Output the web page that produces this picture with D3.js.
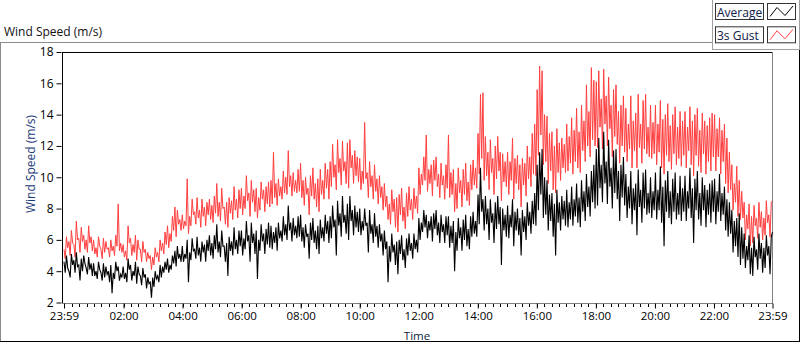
<!DOCTYPE html>
<html>
<head>
<meta charset="utf-8">
<script src="https://cdn.jsdelivr.net/npm/d3@7"></script>
<style>
  body { margin: 0; background: #ffffff; }
  text { font-family: "Open Sans", "Noto Sans", sans-serif; }
</style>
</head>
<body>
<script>
// Average wind speed (m/s), 2.5 minute samples, one row per hour from 23:59
const average = [
    4.6,3.9,5.0,4.2,4.0,3.6,5.1,4.4,4.7,3.9,5.2,4.3,4.4,3.4,4.8,4.0,5.0,4.5,4.2,3.8,4.9,4.1,4.5,3.7,
    4.5,3.7,4.0,3.5,4.6,4.1,3.9,3.4,4.5,3.6,4.3,3.8,4.0,3.3,4.4,2.6,3.9,3.5,4.6,4.0,4.3,3.4,3.8,3.6,
    4.3,3.5,3.9,3.3,4.8,4.1,4.4,3.4,4.0,3.7,4.6,3.2,4.3,3.8,3.7,3.1,4.2,3.6,3.8,2.9,3.6,3.2,3.3,2.3,
    3.6,3.0,4.0,3.5,3.7,3.3,4.4,3.6,4.3,3.9,4.6,4.1,4.8,3.9,4.4,4.1,5.0,4.5,5.3,4.3,5.6,4.8,5.1,4.6,
    5.6,4.6,5.1,4.8,6.0,3.3,5.2,4.7,6.1,5.3,5.4,4.8,6.2,5.0,5.5,4.6,5.9,5.2,5.7,4.6,6.0,5.3,6.3,5.0,
    5.8,4.8,6.3,5.4,7.0,5.2,5.9,4.9,6.6,5.6,5.6,4.6,5.8,3.7,6.2,5.3,5.9,5.0,6.8,5.4,6.0,5.1,6.6,5.6,
    6.6,5.0,6.1,5.4,7.2,5.9,6.3,4.6,7.1,5.8,6.4,5.1,6.6,3.5,6.0,5.3,7.0,5.9,6.4,5.1,6.7,5.7,7.1,5.5,
    6.9,5.4,6.5,5.8,6.8,5.3,7.1,6.1,6.6,5.9,7.5,6.3,7.0,6.0,8.2,6.6,7.1,5.9,7.4,6.3,6.9,6.1,7.5,6.2,
    7.6,5.9,6.8,5.5,7.0,6.2,6.4,4.8,7.1,6.0,7.4,5.8,6.6,5.4,6.9,5.1,7.3,6.1,6.8,5.9,7.6,6.4,7.2,5.8,
    7.5,6.1,8.2,6.8,7.3,5.0,8.5,6.9,7.7,6.2,8.8,7.1,7.6,6.4,8.3,6.0,8.8,7.2,7.9,6.3,8.2,6.8,7.8,6.5,
    8.0,6.3,7.2,6.6,8.0,6.9,7.1,5.2,7.9,6.4,7.0,5.8,7.7,6.2,6.9,5.5,7.0,5.9,6.4,5.0,6.6,5.4,5.9,3.3,
    5.6,4.6,6.4,5.2,5.7,4.4,5.9,3.8,6.0,5.1,6.3,4.7,5.4,4.2,6.1,5.0,6.4,5.3,5.8,4.8,6.4,5.4,6.0,5.2,
    7.4,6.0,7.1,6.5,7.9,6.8,7.6,6.1,7.2,6.6,7.5,5.9,7.7,6.7,7.9,6.3,7.1,5.8,7.6,6.5,7.0,5.8,7.5,6.3,
    7.5,5.5,6.9,5.8,7.2,4.0,6.5,5.3,7.4,6.1,6.8,5.3,7.3,6.0,7.6,5.6,6.7,5.4,7.5,6.2,7.8,6.4,7.2,6.2,
    8.9,7.0,10.6,7.8,8.6,6.6,8.8,7.0,8.0,6.0,8.6,7.1,7.7,5.8,8.4,6.7,8.8,7.0,8.1,4.4,8.0,6.6,7.6,6.2,
    8.2,6.1,7.6,6.8,8.6,5.6,7.8,6.6,8.0,6.3,7.4,5.0,7.9,6.5,7.5,6.0,8.4,6.9,7.8,6.4,8.5,7.0,9.0,6.9,
    10.8,7.9,11.6,8.9,11.8,7.4,10.0,7.6,9.8,6.6,8.9,7.2,9.0,6.2,8.3,5.0,9.2,7.1,8.4,6.6,8.8,7.3,8.5,6.9,
    9.2,6.8,8.4,7.3,9.4,6.9,8.6,7.5,9.6,7.1,8.7,6.8,9.8,7.8,9.1,7.2,10.2,8.1,9.4,7.5,10.4,8.4,10.8,8.0,
    11.8,8.2,12.5,9.3,10.8,8.4,12.9,9.6,11.0,8.3,12.4,9.4,10.6,8.0,11.7,9.0,11.8,8.6,10.4,7.2,10.8,8.7,11.3,8.2,
    10.2,7.4,9.4,8.0,10.4,7.0,9.3,7.9,9.6,6.3,10.5,8.1,9.2,7.1,10.3,8.0,10.5,7.6,9.0,7.7,10.0,7.4,9.1,7.9,
    10.3,7.3,9.2,7.9,10.7,7.1,9.4,5.6,9.8,7.8,10.4,7.4,9.1,7.0,9.9,7.8,10.3,7.3,9.0,7.6,10.1,7.2,9.3,7.8,
    10.1,7.2,9.1,8.0,10.6,7.4,9.3,5.8,9.9,7.9,10.4,7.3,9.0,6.9,10.0,7.9,9.5,6.8,9.2,7.6,9.6,7.1,9.8,7.8,
    9.9,7.0,9.1,7.8,10.2,7.2,9.0,7.6,9.4,6.6,8.6,6.2,8.4,6.4,7.9,5.2,7.2,5.6,7.4,4.9,7.7,4.4,6.8,4.8,
    6.4,4.2,5.6,4.7,6.3,3.8,5.5,3.7,6.2,4.9,5.4,4.1,6.4,4.8,5.8,3.9,5.5,4.2,6.3,5.0,5.6,3.8,6.2,6.5
];

// 3 second gust (m/s), same samples
const gust = [
    5.4,4.8,6.2,5.5,5.9,5.0,6.6,5.8,5.7,4.9,7.2,6.0,6.1,5.2,6.8,5.9,6.3,5.4,6.0,5.2,6.9,5.8,6.2,5.3,
    6.0,5.1,5.5,4.9,6.2,5.6,5.4,4.8,6.1,5.2,5.9,5.4,5.5,4.9,6.0,5.3,5.6,5.0,6.3,5.6,8.3,5.3,5.8,5.2,
    5.7,4.9,5.3,4.7,6.9,5.8,6.1,5.0,5.7,5.2,6.3,4.7,6.0,5.4,5.4,4.6,5.9,5.2,5.4,4.6,5.2,4.8,5.0,4.1,
    4.9,4.4,5.5,4.9,5.2,4.6,6.0,5.3,5.8,5.1,6.5,5.7,6.9,5.5,6.4,5.9,7.5,6.6,8.1,6.2,7.9,7.0,7.3,6.6,
    7.6,6.7,7.2,6.9,9.9,6.4,7.5,6.9,8.6,7.6,7.8,7.0,8.7,7.4,7.9,6.8,8.6,7.5,8.1,6.9,8.4,7.6,8.6,7.3,
    8.2,7.1,8.8,7.7,9.6,7.5,8.4,7.2,9.3,8.0,8.1,7.0,8.4,6.8,8.7,7.7,8.5,7.3,9.4,7.9,8.6,7.4,9.2,8.0,
    9.3,7.6,8.8,8.0,10.1,8.5,9.0,7.5,9.8,8.4,9.2,7.8,9.3,7.4,8.7,7.9,9.7,8.6,9.2,7.8,9.4,8.3,9.7,8.1,
    9.8,8.3,11.6,8.7,9.6,8.2,9.9,8.8,9.4,8.6,10.4,9.0,10.0,8.9,11.7,9.4,10.1,8.8,10.3,9.1,9.8,9.0,10.5,9.1,
    10.9,8.7,9.8,8.2,10.0,8.9,9.3,7.6,10.1,8.8,10.6,8.6,9.6,8.1,9.9,7.8,10.5,8.9,9.8,8.6,10.9,9.3,10.5,8.6,
    11.0,9.4,12.1,10.0,10.8,9.2,12.4,10.3,11.2,9.5,12.3,10.4,11.0,9.6,12.2,9.3,12.4,10.6,11.4,9.6,11.7,10.1,11.3,9.7,
    11.2,9.2,10.4,9.6,13.5,9.9,10.3,8.7,11.0,9.4,10.1,8.6,10.8,9.1,9.9,8.3,10.1,8.7,9.4,7.9,9.6,8.1,8.8,7.3,
    8.3,7.0,9.2,7.8,8.6,6.8,8.7,6.5,8.9,7.6,9.3,7.2,8.1,6.7,9.0,7.5,9.4,7.9,8.6,7.3,9.3,8.0,8.8,7.7,
    10.6,8.9,10.2,9.5,11.3,9.8,12.7,9.1,10.5,9.6,10.8,8.8,11.1,9.8,11.3,9.4,10.2,8.7,10.9,9.5,10.1,8.6,10.8,9.3,
    12.7,8.7,10.3,8.9,10.5,7.8,9.6,8.0,10.6,9.0,9.8,8.1,10.5,8.9,10.9,8.5,9.7,8.2,10.8,9.2,11.1,9.5,10.6,9.3,
    12.8,10.2,15.3,11.2,15.4,9.8,12.6,10.1,11.6,9.2,12.4,10.3,11.2,8.9,12.0,9.9,12.6,10.4,11.6,8.5,11.5,9.7,11.0,9.4,
    11.6,8.9,11.0,9.8,12.5,8.6,11.2,9.6,11.4,9.2,10.8,8.1,11.2,9.5,10.9,8.8,12.0,9.9,11.3,9.4,12.8,10.2,13.4,10.1,
    15.6,11.4,17.1,12.7,16.8,10.8,14.0,11.0,13.9,9.6,12.8,10.4,12.9,9.2,12.0,9.0,13.1,10.3,12.2,9.8,12.5,10.6,12.1,10.3,
    13.4,10.4,12.6,10.9,13.8,10.2,13.0,11.0,14.4,10.6,12.9,10.3,14.6,11.7,13.6,11.0,15.9,12.0,14.2,11.3,17.0,12.4,16.2,12.0,
    16.1,11.9,16.8,13.2,15.0,11.8,16.9,13.4,15.2,12.0,16.4,13.1,14.6,11.3,15.6,12.6,15.9,12.1,14.2,10.9,14.6,12.0,15.2,11.6,
    14.4,11.0,13.4,11.8,15.2,10.6,13.6,11.7,14.1,10.6,15.3,11.9,13.4,10.9,14.9,11.8,15.3,11.5,13.2,11.3,14.6,11.2,13.5,11.5,
    14.6,10.8,13.4,11.6,14.9,10.6,13.7,10.2,14.0,11.4,14.7,11.0,13.3,10.5,14.0,11.5,14.5,10.8,13.2,11.2,14.2,10.7,13.6,11.4,
    14.2,10.6,13.2,11.7,14.5,10.8,13.6,10.1,14.0,11.4,14.4,10.7,13.0,10.3,14.1,11.5,13.6,10.2,13.3,11.0,13.8,10.4,14.1,11.3,
    14.0,10.4,13.1,11.3,13.8,10.2,13.0,11.0,13.4,9.6,12.5,9.0,11.6,9.2,10.8,7.9,9.6,8.4,10.7,7.5,9.8,7.3,9.1,7.4,
    8.4,6.0,7.6,6.7,8.3,5.6,7.5,5.8,8.2,6.9,7.4,6.1,8.4,6.8,7.8,6.0,7.4,6.3,8.5,7.1,7.6,6.2,8.4,8.5
];

const yTicks = [2, 4, 6, 8, 10, 12, 14, 16, 18];
const xTickHours = [2, 4, 6, 8, 10, 12, 14, 16, 18, 20, 22];
const seriesNames = ["Average", "3s Gust"];
const seriesColors = ["#000000", "#ff3f3f"];

let width = 800,
    height = 342;

let svg = d3.select('body')
    .append('svg')
    .attr('width', width)
    .attr('height', height);

// Time range is one day, 23:59 to 23:59
let start = new Date(2020, 0, 1, 23, 59);
let end = new Date(2020, 0, 2, 23, 59);

let xScale = d3.scaleTime()
    .domain([start, end])
    .range([64, 772.5]);

let yScale = d3.scaleLinear()
    .domain([2, 18])
    .range([302.5, 52]);

// samples are spread evenly over the day
let toPoints = arr => {
    let step = (end - start) / (arr.length - 1);
    return arr.map((v, i) => ({ t: new Date(+start + i * step), v: v }));
};

// Outer frame (LabVIEW style)
svg.append('line').attr('x1', 0).attr('x2', 712).attr('y1', 42.5).attr('y2', 42.5)
    .attr('stroke', '#8a8a8a');
svg.append('line').attr('x1', 0.5).attr('x2', 0.5).attr('y1', 42).attr('y2', 342)
    .attr('stroke', '#8a8a8a');
svg.append('line').attr('x1', 0).attr('x2', 800).attr('y1', 341.5).attr('y2', 341.5)
    .attr('stroke', '#000');
svg.append('line').attr('x1', 799.5).attr('x2', 799.5).attr('y1', 49).attr('y2', 342)
    .attr('stroke', '#000');

// Chart label
svg.append('text')
    .attr('x', 4)
    .attr('y', 36)
    .style('font-size', '12px')
    .style('fill', '#111')
    .text('Wind Speed (m/s)');

// Plot area border
svg.append('line').attr('x1', 62).attr('x2', 773).attr('y1', 52.5).attr('y2', 52.5).attr('stroke', '#000');
svg.append('line').attr('x1', 62.5).attr('x2', 62.5).attr('y1', 52).attr('y2', 303).attr('stroke', '#000');
svg.append('line').attr('x1', 772.5).attr('x2', 772.5).attr('y1', 52).attr('y2', 303).attr('stroke', '#808080');
svg.append('line').attr('x1', 62).attr('x2', 773).attr('y1', 303.5).attr('y2', 303.5).attr('stroke', '#808080');

// Y axis
let yAxis = svg.append('g')
    .attr('transform', 'translate(61.5,0)')
    .call(d3.axisLeft(yScale).tickValues(yTicks).tickSize(5).tickPadding(3).tickFormat(d3.format('d')));
yAxis.select('.domain').remove();
yAxis.selectAll('text').style('font-size', '12px').style('font-family', '"Open Sans", sans-serif').style('fill', '#000');

// X axis minor ticks every 15 minutes
let minorTicks = d3.timeMinute.every(15).range(new Date(2020, 0, 2, 0, 0), end);
svg.append('g')
    .selectAll('line')
    .data(minorTicks)
    .enter().append('line')
    .attr('x1', d => Math.round(xScale(d)) + 0.5)
    .attr('x2', d => Math.round(xScale(d)) + 0.5)
    .attr('y1', 304)
    .attr('y2', 307)
    .attr('stroke', '#000');

// X axis major ticks and labels
let majorTicks = [start].concat(xTickHours.map(h => new Date(2020, 0, 2, h, 0)), [end]);
let xAxis = svg.append('g')
    .attr('transform', 'translate(0,303.5)')
    .call(d3.axisBottom(xScale).tickValues(majorTicks).tickSize(5).tickPadding(3)
        .tickFormat(d3.timeFormat('%H:%M')));
xAxis.select('.domain').remove();
xAxis.selectAll('text').style('font-size', '11.5px').style('font-family', '"Open Sans", sans-serif').style('fill', '#000');

// Axis titles
svg.append('text')
    .attr('x', 417)
    .attr('y', 339.5)
    .attr('text-anchor', 'middle')
    .style('font-size', '11.5px')
    .style('fill', '#0f1e3c')
    .text('Time');

svg.append('text')
    .attr('transform', 'translate(35,164) rotate(-90)')
    .attr('text-anchor', 'middle')
    .style('font-size', '12px')
    .style('fill', '#1a3a78')
    .text('Wind Speed (m/s)');

// Lines
let line = d3.line()
    .x(d => xScale(d.t))
    .y(d => yScale(d.v));

let plot = svg.append('g');
plot.append('path')
    .datum(toPoints(gust))
    .attr('d', line)
    .attr('fill', 'none')
    .attr('stroke', seriesColors[1])
    .attr('stroke-width', 1);
plot.append('path')
    .datum(toPoints(average))
    .attr('d', line)
    .attr('fill', 'none')
    .attr('stroke', seriesColors[0])
    .attr('stroke-width', 1.1);

// Legend
svg.append('rect')
    .attr('x', 712.5).attr('y', -1)
    .attr('width', 87).attr('height', 50.5)
    .attr('fill', '#ffffff')
    .attr('stroke', '#a0a0a0');

seriesNames.forEach((name, i) => {
    let y0 = 3.5 + i * 23.3;
    svg.append('rect')
        .attr('x', 715.5).attr('y', y0)
        .attr('width', 48).attr('height', 16)
        .attr('fill', '#fcfcfc')
        .attr('stroke', '#333');
    svg.append('text')
        .attr('x', 717)
        .attr('y', y0 + 13)
        .style('font-size', '12px')
        .style('fill', '#10204a')
        .text(name);
    svg.append('rect')
        .attr('x', 767.5).attr('y', y0)
        .attr('width', 28).attr('height', 16)
        .attr('fill', '#ffffff')
        .attr('stroke', '#333');
    svg.append('polyline')
        .attr('points', [[770, y0 + 13], [777, y0 + 4], [785, y0 + 12], [793, y0 + 2.5]].join(' '))
        .attr('fill', 'none')
        .attr('stroke', seriesColors[i]);
});
</script>
</body>
</html>
